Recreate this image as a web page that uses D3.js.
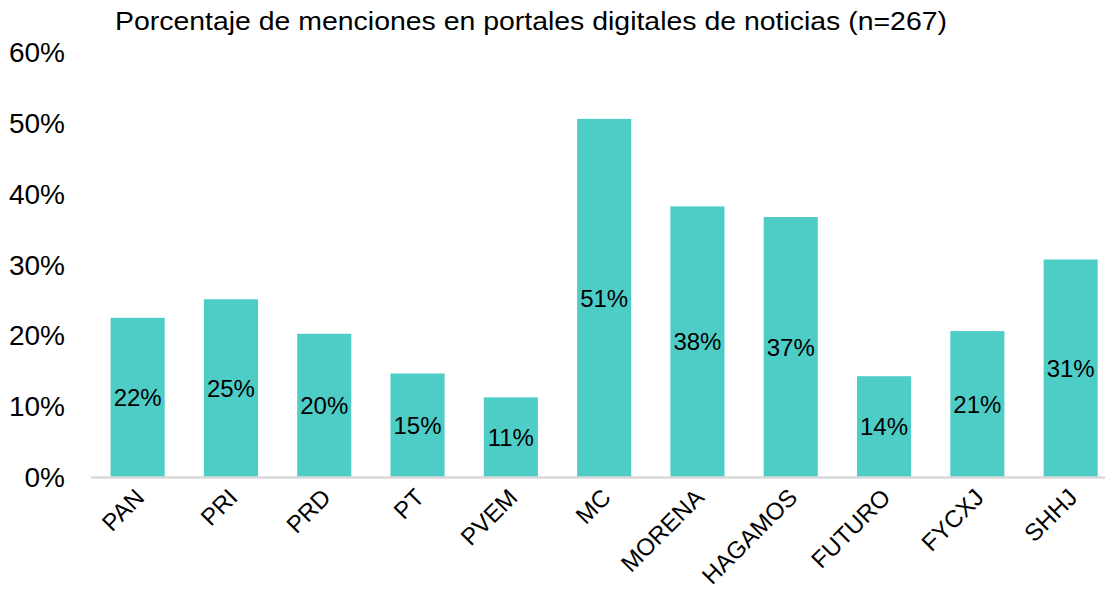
<!DOCTYPE html>
<html>
<head>
<meta charset="utf-8">
<script src="https://cdn.jsdelivr.net/npm/d3@7"></script>
<style>
  body { margin: 0; background: #fff; }
  text { font-family: "Liberation Sans", Arial, sans-serif; fill: #000; }
</style>
</head>
<body>
<div id="chart"></div>
<script>
// chart data
var partidos = ["PAN", "PRI", "PRD", "PT", "PVEM", "MC", "MORENA", "HAGAMOS", "FUTURO", "FYCXJ", "SHHJ"];
var porcentajes = [22.47, 25.09, 20.22, 14.61, 11.24, 50.56, 38.2, 36.7, 14.23, 20.6, 30.71];
var yTicks = [0, 10, 20, 30, 40, 50, 60];
var titulo = "Porcentaje de menciones en portales digitales de noticias (n=267)";

var width = 1105, height = 601;
var plotLeft = 91, plotTop = 52, plotBottom = 477;

var svg = d3.select("#chart").append("svg")
    .attr("width", width)
    .attr("height", height);

var x = d3.scaleBand()
    .domain(partidos)
    .range([plotLeft, plotLeft + 11 * 93.3])
    .paddingInner(0.42)
    .paddingOuter(0.21);

var y = d3.scaleLinear()
    .domain([0, 60])
    .range([plotBottom, plotTop]);

// title
svg.append("text")
    .attr("x", 531)
    .attr("y", 30)
    .attr("text-anchor", "middle")
    .style("font-size", "26px")
    .attr("textLength", 832)
    .attr("lengthAdjust", "spacingAndGlyphs")
    .text(titulo);

// y tick labels (no axis line)
svg.selectAll(".ytick").data(yTicks).enter()
    .append("text")
    .attr("class", "ytick")
    .attr("x", 65)
    .attr("y", function(d) { return y(d); })
    .attr("dy", "0.36em")
    .attr("text-anchor", "end")
    .style("font-size", "28px")
    .text(function(d) { return d + "%"; });

// bars
svg.selectAll(".bar").data(porcentajes).enter()
    .append("rect")
    .attr("class", "bar")
    .attr("x", function(d, i) { return x(partidos[i]); })
    .attr("width", x.bandwidth())
    .attr("y", function(d) { return y(d); })
    .attr("height", function(d) { return y(0) - y(d); })
    .style("fill", "#4ecdc6");

// baseline
svg.append("line")
    .attr("x1", plotLeft)
    .attr("x2", width)
    .attr("y1", plotBottom + 0.5)
    .attr("y2", plotBottom + 0.5)
    .style("stroke", "#d9d9d9")
    .style("stroke-width", 2.5);

// data labels in the middle of each bar
svg.selectAll(".lbl").data(porcentajes).enter()
    .append("text")
    .attr("class", "lbl")
    .attr("x", function(d, i) { return x(partidos[i]) + x.bandwidth() / 2; })
    .attr("y", function(d) { return (y(d) + y(0)) / 2; })
    .attr("dy", "0.36em")
    .attr("text-anchor", "middle")
    .style("font-size", "24px")
    .text(function(d) { return Math.round(d) + "%"; });

// rotated category labels
svg.selectAll(".xlbl").data(partidos).enter()
    .append("text")
    .attr("class", "xlbl")
    .attr("text-anchor", "end")
    .attr("transform", function(d) {
        var cx = x(d) + x.bandwidth() / 2 + 8;
        return "translate(" + cx + "," + 499 + ") rotate(-45)";
    })
    .style("font-size", "24px")
    .text(function(d) { return d; });
</script>
</body>
</html>
